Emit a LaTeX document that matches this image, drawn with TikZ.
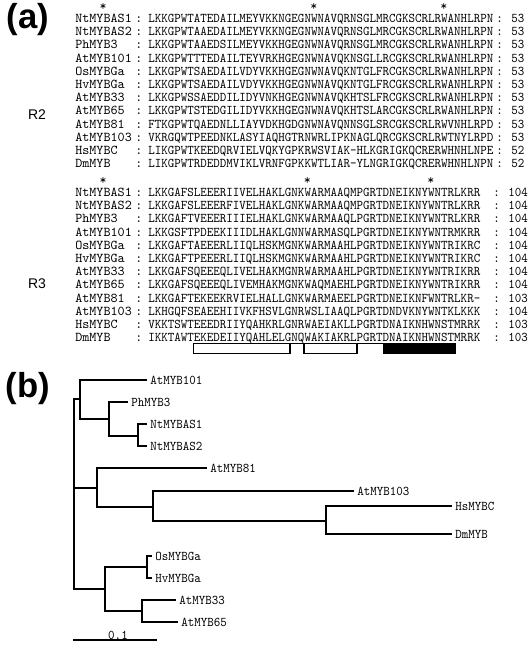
\documentclass[tikz,border=0pt]{standalone}
\usepackage{fontspec}
\newfontfamily\arialfont{Liberation Sans}
\usetikzlibrary{positioning}

% squeezed mono text
\newcommand{\sqz}[1]{\scalebox{0.93}[1]{#1}}

\tikzset{
  seqtext/.style={anchor=base west, inner sep=0pt, font=\fontsize{10}{11}\ttfamily},
  nametext/.style={anchor=base west, inner sep=0pt, font=\fontsize{10.1}{11}\ttfamily},
  startext/.style={anchor=base, inner sep=0pt, font=\fontsize{10}{11}\ttfamily},
  leaf/.style={anchor=west, inner xsep=2.25pt, inner ysep=0pt, font=\fontsize{10}{11}\ttfamily},
  branch/.style={line width=1.1pt},
  helixbox/.style={draw, line width=1.1pt},
  panel/.style={font=\fontsize{26}{26}\arialfont\bfseries},
  repeatlbl/.style={font=\fontsize{10.5}{12}\arialfont},
}

\begin{document}
\begin{tikzpicture}[x=0.75pt, y=-0.75pt]
  \useasboundingbox (0,0) rectangle (529,645);

  % --- panel letters ---
  \node[panel] (pa) at (28,20) {(a)};
  \node[panel] (pb) at (28,389) {(b)};

  % --- repeat labels ---
  \node[repeatlbl] (rtwo) at (37,115) {R2};
  \node[repeatlbl] (rthree) at (37,284) {R3};

  % --- R2 alignment ---
  \node[startext] (stara1) at (103,10.3) {*};
  \node[startext] (stara2) at (313.8,10.3) {*};
  \node[startext] (stara3) at (443.8,10.3) {*};
  \foreach \nm/\sq/\len [count=\i from 0] in {
    NtMYBAS1/LKKGPWTATEDAILMEYVKKNGEGNWNAVQRNSGLMRCGKSCRLRWANHLRPN/53,
    NtMYBAS2/LKKGPWTAAEDAILMEYVKKNGEGNWNAVQRNSGLMRCGKSCRLRWANHLRPN/53,
    PhMYB3/LKKGPWTAAEDSILMEYVKKHGEGNWNAVQRNSGLMRCGKSCRLRWANHLRPN/53,
    AtMYB101/LKKGPWTTTEDAILTEYVRKHGEGNWNAVQKNSGLLRCGKSCRLRWANHLRPN/53,
    OsMYBGa/LKKGPWTSAEDAILVDYVKKHGEGNWNAVQKNTGLFRCGKSCRLRWANHLRPN/53,
    HvMYBGa/LKKGPWTSAEDAILVDYVKKHGEGNWNAVQKNTGLFRCGKSCRLRWANHLRPN/53,
    AtMYB33/LKKGPWSSAEDDILIDYVNKHGEGNWNAVQKHTSLFRCGKSCRLRWANHLRPN/53,
    AtMYB65/LKKGPWTSTEDGILIDYVKKHGEGNWNAVQKHTSLARCGKSCRLRWANHLRPN/53,
    AtMYB81/FTKGPWTQAEDNLLIAYVDKHGDGNWNAVQNNSGLSRCGKSCRLRWVNHLRPD/53,
    AtMYB103/VKRGQWTPEEDNKLASYIAQHGTRNWRLIPKNAGLQRCGKSCRLRWTNYLRPD/53,
    HsMYBC/LIKGPWTKEEDQRVIELVQKYGPKRWSVIAK-HLKGRIGKQCRERWHNHLNPE/52,
    DmMYB/LIKGPWTRDEDDMVIKLVRNFGPKKWTLIAR-YLNGRIGKQCRERWHNHLNPN/52}{
    \node[nametext] (na\i) at (75,{22.5+13.2*\i}) {\nm};
    \node[seqtext] (ca\i) at (135,{22.5+13.2*\i}) {:};
    \node[seqtext] (sa\i) at (148,{22.5+13.2*\i}) {\sqz{\sq}};
    \node[seqtext] (la\i) at (496,{22.5+13.2*\i}) {\sqz{: \len}};
  }

  % --- R3 alignment ---
  \node[startext] (starb1) at (103,184.3) {*};
  \node[startext] (starb2) at (307.3,184.3) {*};
  \node[startext] (starb3) at (430.8,184.3) {*};
  \foreach \nm/\sq/\len [count=\i from 0] in {
    NtMYBAS1/LKKGAFSLEEERIIVELHAKLGNKWARMAAQMPGRTDNEIKNYWNTRLKRR/104,
    NtMYBAS2/LKKGAFSLEEERFIVELHAKLGNKWARMAAQMPGRTDNEIKNYWNTRLKRR/104,
    PhMYB3/LKKGAFTVEEERIIIELHAKLGNKWARMAAQLPGRTDNEIKNYWNTRLKRR/104,
    AtMYB101/LKKGSFTPDEEKIIIDLHAKLGNNWARMASQLPGRTDNEIKNYWNTRMKRR/104,
    OsMYBGa/LKKGAFTAEEERLIIQLHSKMGNKWARMAAHLPGRTDNEIKNYWNTRIKRC/104,
    HvMYBGa/LKKGAFTPEEERLIIQLHSKMGNKWARMAAHLPGRTDNEIKNYWNTRIKRC/104,
    AtMYB33/LKKGAFSQEEEQLIVELHAKMGNRWARMAAHLPGRTDNEIKNYWNTRIKRR/104,
    AtMYB65/LKKGAFSQEEEQLIVEMHAKMGNKWAQMAEHLPGRTDNEIKNYWNTRIKRR/104,
    AtMYB81/LKKGAFTEKEEKRVIELHALLGNKWARMAEELPGRTDNEIKNFWNTRLKR-/103,
    AtMYB103/LKHGQFSEAEEHIIVKFHSVLGNRWSLIAAQLPGRTDNDVKNYWNTKLKKK/104,
    HsMYBC/VKKTSWTEEEDRIIYQAHKRLGNRWAEIAKLLPGRTDNAIKNHWNSTMRRK/103,
    DmMYB/IKKTAWTEKEDEIIYQAHLELGNQWAKIAKRLPGRTDNAIKNHWNSTMRRK/103}{
    \node[nametext] (nb\i) at (75,{196.5+13.2*\i}) {\nm};
    \node[seqtext] (cb\i) at (135,{196.5+13.2*\i}) {:};
    \node[seqtext] (sb\i) at (148,{196.5+13.2*\i}) {\sqz{\sq}};
    \node[seqtext] (lb\i) at (493,{196.5+13.2*\i}) {\sqz{: \len}};
  }

  % --- helices under DmMYB ---
  \draw[line width=0.6pt] (193.6,343.5) -- (454,343.5);
  \draw[helixbox] (193.6,343.5) rectangle (290,353.5);
  \draw[helixbox] (304.2,343.5) rectangle (357,353.5);
  \draw[helixbox, fill=black] (384,343.5) rectangle (455,353.5);

  % --- tree: inner nodes ---
  \coordinate (root) at (74,494);
  \coordinate (ga) at (80,399);
  \coordinate (gb) at (109,419);
  \coordinate (gc) at (138,436);
  \coordinate (gd) at (97,488);
  \coordinate (ge) at (153,507);
  \coordinate (gf) at (326,521);
  \coordinate (gg) at (105,589);
  \coordinate (gh) at (147,567);
  \coordinate (gi) at (142,611);

  % --- tree: leaves ---
  \node[leaf] (tAt101) at (147,380) {\sqz{AtMYB101}};
  \node[leaf] (tPh3) at (128,402) {\sqz{PhMYB3}};
  \node[leaf] (tNt1) at (147,424) {\sqz{NtMYBAS1}};
  \node[leaf] (tNt2) at (147,446) {\sqz{NtMYBAS2}};
  \node[leaf] (tAt81) at (207,468) {\sqz{AtMYB81}};
  \node[leaf] (tAt103) at (354,491) {\sqz{AtMYB103}};
  \node[leaf] (tHs) at (452,506) {\sqz{HsMYBC}};
  \node[leaf] (tDm) at (452,534) {\sqz{DmMYB}};
  \node[leaf] (tOs) at (152,556) {\sqz{OsMYBGa}};
  \node[leaf] (tHv) at (152,578) {\sqz{HvMYBGa}};
  \node[leaf] (tAt33) at (176,600) {\sqz{AtMYB33}};
  \node[leaf] (tAt65) at (178,622) {\sqz{AtMYB65}};

  % --- tree: branches ---
  \draw[branch] (root) |- (ga);
  \draw[branch] (root) |- (gd);
  \draw[branch] (root) |- (gg);
  \draw[branch] (ga) |- (tAt101.west);
  \draw[branch] (ga) |- (gb);
  \draw[branch] (gb) |- (tPh3.west);
  \draw[branch] (gb) |- (gc);
  \draw[branch] (gc) |- (tNt1.west);
  \draw[branch] (gc) |- (tNt2.west);
  \draw[branch] (gd) |- (tAt81.west);
  \draw[branch] (gd) |- (ge);
  \draw[branch] (ge) |- (tAt103.west);
  \draw[branch] (ge) |- (gf);
  \draw[branch] (gf) |- (tHs.west);
  \draw[branch] (gf) |- (tDm.west);
  \draw[branch] (gg) |- (gh);
  \draw[branch] (gg) |- (gi);
  \draw[branch] (gh) |- (tOs.west);
  \draw[branch] (gh) |- (tHv.west);
  \draw[branch] (gi) |- (tAt33.west);
  \draw[branch] (gi) |- (tAt65.west);

  % --- scale bar ---
  \coordinate (sbl) at (73,640);
  \coordinate (sbr) at (157,640);
  \draw[line width=0.8pt] (sbl) -- (sbr);
  \node[startext] (sblbl) at (118,639) {\sqz{0.1}};

\end{tikzpicture}
\end{document}
